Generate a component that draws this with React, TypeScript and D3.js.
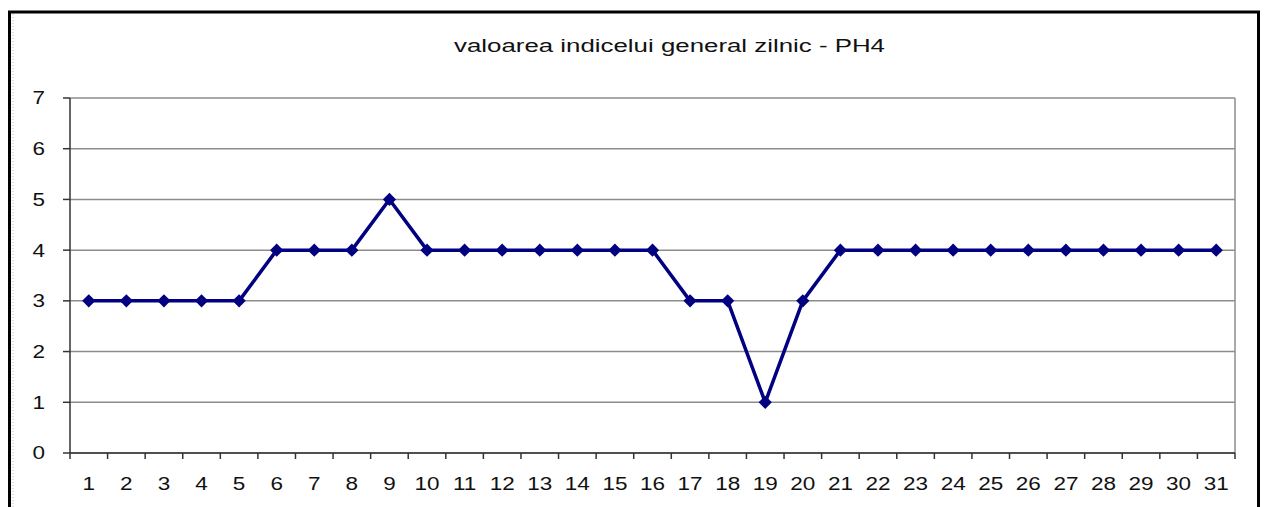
import React from "react";
import * as d3 from "d3";

const days = d3.range(1, 32).map((d) => String(d));
const values = [3, 3, 3, 3, 3, 4, 4, 4, 5, 4, 4, 4, 4, 4, 4, 4, 3, 3, 1, 3, 4, 4, 4, 4, 4, 4, 4, 4, 4, 4, 4];
const yTicks = [0, 1, 2, 3, 4, 5, 6, 7];
const title = "valoarea indicelui  general zilnic - PH4";

const App = () => {
  const W = 1265;
  const H = 507;
  const margin = { top: 98, right: 30, bottom: 54, left: 70 };
  const width = 1235 - margin.left;
  const height = 453 - margin.top;
  const stretch = 1.25; // labels in the picture are drawn wider than normal

  const x = d3.scaleBand().domain(days).range([0, width]).padding(0);
  const y = d3.scaleLinear().domain([0, 7]).range([height, 0]);

  const line = d3
    .line<number>()
    .x((_, i) => x(days[i])! + x.bandwidth() / 2)
    .y((d) => y(d));

  // square turned 45 degrees, like the spreadsheet diamond marker
  const diamond = d3.symbol().type(d3.symbolSquare).size(88)();

  return (
    <svg
      width={W}
      height={H}
      style={{ position: "absolute", left: 0, top: 0, fontFamily: "Arial, Liberation Sans, sans-serif" }}
    >
      <rect x={0} y={0} width={W} height={H} fill="white" />
      {/* outer frame */}
      <rect x={9.5} y={12} width={1249} height={520} fill="none" stroke="#000" strokeWidth={3} />
      <line x1={13} y1={14} x2={13} y2={H} stroke="#bbb" strokeWidth={1} strokeDasharray="1,2" />

      <text
        x={454}
        y={52}
        fontSize={17.5}
        fill="#111"
        textLength={431}
        lengthAdjust="spacingAndGlyphs"
      >
        {title}
      </text>

      <g transform={`translate(${margin.left},${margin.top})`}>
        {/* gridlines */}
        {yTicks.map((t) => (
          <line key={t} x1={0} x2={width} y1={y(t)} y2={y(t)} stroke="#8c8c8c" strokeWidth={1.5} />
        ))}
        <line x1={width} x2={width} y1={0} y2={height} stroke="#8c8c8c" strokeWidth={1.5} />

        {/* y axis */}
        <line x1={0} x2={0} y1={0} y2={height} stroke="#333" strokeWidth={1.5} />
        {yTicks.map((t) => (
          <g key={t}>
            <line x1={-7} x2={0} y1={y(t)} y2={y(t)} stroke="#333" strokeWidth={1.5} />
            <text
              transform={`translate(-25,${y(t)}) scale(${stretch},1)`}
              dy="0.36em"
              textAnchor="end"
              fontSize={18}
              fill="#111"
            >
              {t}
            </text>
          </g>
        ))}

        {/* x axis */}
        <line x1={0} x2={width} y1={height} y2={height} stroke="#333" strokeWidth={1.5} />
        {days.map((d) => (
          <line
            key={"t" + d}
            x1={x(d)!}
            x2={x(d)!}
            y1={height}
            y2={height + 6}
            stroke="#333"
            strokeWidth={1.5}
          />
        ))}
        <line x1={width} x2={width} y1={height} y2={height + 6} stroke="#333" strokeWidth={1.5} />
        {days.map((d) => (
          <text
            key={"l" + d}
            transform={`translate(${x(d)! + x.bandwidth() / 2},${height + 37}) scale(${stretch},1)`}
            textAnchor="middle"
            fontSize={18}
            fill="#111"
          >
            {d}
          </text>
        ))}

        {/* series */}
        <path d={line(values)!} fill="none" stroke="#000080" strokeWidth={3.5} strokeLinejoin="round" />
        {values.map((v, i) => (
          <path
            key={"m" + i}
            d={diamond!}
            transform={`translate(${x(days[i])! + x.bandwidth() / 2},${y(v)}) rotate(45)`}
            fill="#000080"
          />
        ))}
      </g>
    </svg>
  );
};

export default App;
